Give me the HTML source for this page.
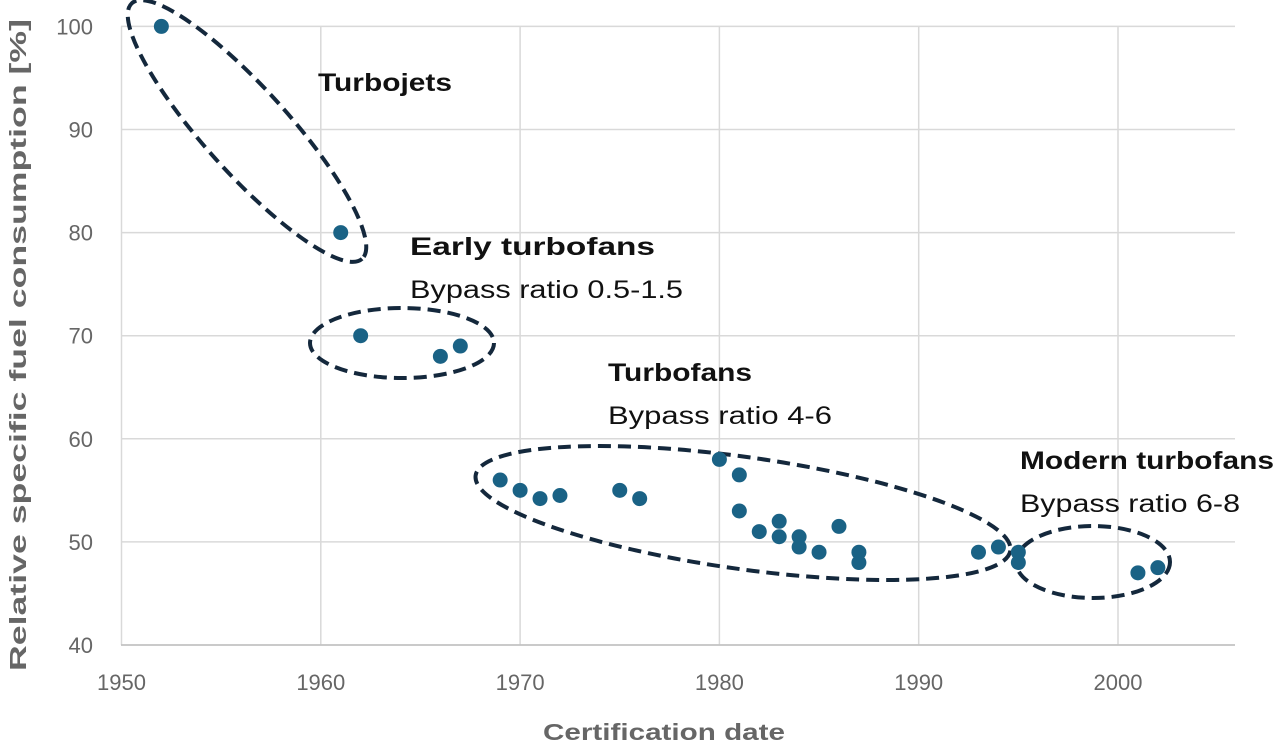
<!DOCTYPE html>
<html><head><meta charset="utf-8"><style>
body{margin:0;background:#fff;}
svg text{font-family:"Liberation Sans",sans-serif;}
</style></head><body>
<svg width="1280" height="748" viewBox="0 0 1280 748">
<g id="grid"></g>
<g id="ticks"></g>
<text x="26" y="345" transform="rotate(-90 26 345)" text-anchor="middle" font-size="23" font-weight="bold" fill="#666" textLength="652" lengthAdjust="spacingAndGlyphs">Relative specific fuel consumption [%]</text>
<text x="664" y="740" text-anchor="middle" font-size="23" font-weight="bold" fill="#666" textLength="242" lengthAdjust="spacingAndGlyphs">Certification date</text>
<g fill="none" stroke="#14283c" stroke-width="4" stroke-dasharray="13 7">
<ellipse cx="247" cy="131" rx="172" ry="42" transform="rotate(48 247 131)"/>
<ellipse cx="402" cy="343" rx="92" ry="35"/>
<ellipse cx="743" cy="513" rx="270" ry="56" transform="rotate(8 743 513)"/>
<ellipse cx="1093" cy="562" rx="77" ry="36"/>
</g>
<g id="pts"></g>
<g font-size="25" fill="#111" lengthAdjust="spacingAndGlyphs">
<text x="318" y="91" font-weight="bold" textLength="134" lengthAdjust="spacingAndGlyphs">Turbojets</text>
<text x="410" y="255" font-weight="bold" textLength="245" lengthAdjust="spacingAndGlyphs">Early turbofans</text>
<text x="410" y="298" textLength="273" lengthAdjust="spacingAndGlyphs">Bypass ratio 0.5-1.5</text>
<text x="608" y="381" font-weight="bold" textLength="144" lengthAdjust="spacingAndGlyphs">Turbofans</text>
<text x="608" y="424" textLength="224" lengthAdjust="spacingAndGlyphs">Bypass ratio 4-6</text>
<text x="1020" y="469" font-weight="bold" textLength="254" lengthAdjust="spacingAndGlyphs">Modern turbofans</text>
<text x="1020" y="512" textLength="220" lengthAdjust="spacingAndGlyphs">Bypass ratio 6-8</text>
</g>
</svg>
<script>
const years=[1952,1961,1962,1966,1967,1969,1970,1971,1972,1975,1976,1980,1981,1981,1982,1983,1983,1984,1984,1985,1986,1987,1987,1993,1994,1995,1995,2001,2002];
const sfc=[100,80,70,68,69,56,55,54.2,54.5,55,54.2,58,56.5,53,51,52,50.5,50.5,49.5,49,51.5,49,48,49,49.5,49,48,47,47.5];
const xTicks=[1950,1960,1970,1980,1990,2000];
const yTicks=[40,50,60,70,80,90,100];
const X=v=>121.5+(v-1950)*19.93;
const Y=v=>645-(v-40)*10.31;
const NS="http://www.w3.org/2000/svg";
const grid=document.getElementById('grid'),ticks=document.getElementById('ticks'),pts=document.getElementById('pts');
function mk(tag,attrs,parent){const e=document.createElementNS(NS,tag);for(const k in attrs)e.setAttribute(k,attrs[k]);parent.appendChild(e);return e;}
yTicks.forEach(t=>{
 const l=mk('line',{x1:121,x2:1235,y1:Y(t),y2:Y(t),stroke:'#d9d9d9','stroke-width':1.5},grid);
 
 
 const tx=mk('text',{x:93,y:Y(t)+8,'text-anchor':'end','font-size':22,fill:'#666'},ticks);
 tx.textContent=t;
 
 
});
xTicks.forEach(t=>{
 const l=mk('line',{x1:X(t),x2:X(t),y1:Y(100),y2:Y(40),stroke:'#d9d9d9','stroke-width':1.5},grid);
 
 
 const tx=mk('text',{x:X(t),y:690,'text-anchor':'middle','font-size':22,fill:'#666'},ticks);
 tx.textContent=t;
 
 
});
const xl=mk('line',{x1:121,x2:1235,y1:Y(40),y2:Y(40),stroke:'#bfbfbf','stroke-width':1.5},grid);


years.forEach((yr,i)=>{
 const c=mk('circle',{cx:X(yr),cy:Y(sfc[i]),r:7.5,fill:'#1a6285'},pts);
 
 
});
</script>
</body></html>
